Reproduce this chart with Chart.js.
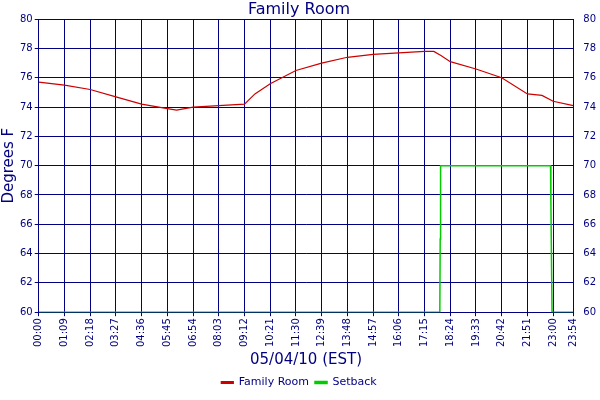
<!DOCTYPE html>
<html>
<head>
<script src="https://cdn.jsdelivr.net/npm/chart.js@4"></script>
<style>body{margin:0;background:#fff}#wrap{width:600px;height:400px}</style>
</head>
<body>
<div id="wrap"><canvas id="c"></canvas></div>
<script>
// minutes since midnight / temperature
const roomMinutes = [0, 69, 138, 207, 276, 345, 370, 414, 483, 552, 580, 621, 690, 759, 828, 897, 966, 1035, 1060, 1080, 1104, 1173, 1242, 1311, 1350, 1380, 1434];
const roomTemps = [75.7, 75.5, 75.2, 74.7, 74.2, 73.9, 73.8, 74.0, 74.1, 74.2, 74.9, 75.6, 76.5, 77.0, 77.4, 77.6, 77.7, 77.8, 77.8, 77.5, 77.1, 76.6, 76.0, 74.9, 74.8, 74.4, 74.1];
const setbackMinutes = [0, 1076, 1077, 1078, 1373, 1374, 1376, 1377, 1434];
const setbackTemps = [60, 60, 65, 70, 70, 67.5, 62.5, 60, 60];
const tickMinutes = [0, 69, 138, 207, 276, 345, 414, 483, 552, 621, 690, 759, 828, 897, 966, 1035, 1104, 1173, 1242, 1311, 1380, 1434];

const pad = n => String(n).padStart(2, '0');
const fmt = m => pad(Math.floor(m / 60)) + ':' + pad(m % 60);
const navy = '#000080';
const font = { family: 'Verdana, "DejaVu Sans", sans-serif', size: 10 };

new Chart(document.getElementById('c'), {
    type: 'line',
    data: {
        datasets: [
            { label: 'Family Room', data: roomMinutes.map((m, i) => ({ x: m, y: roomTemps[i] })), borderColor: '#cc0000', backgroundColor: '#cc0000', borderWidth: 1.2, pointRadius: 0 },
            { label: 'Setback', data: setbackMinutes.map((m, i) => ({ x: m, y: setbackTemps[i] })), borderColor: '#00cc00', backgroundColor: '#00cc00', borderWidth: 1.5, pointRadius: 0 }
        ]
    },
    options: {
        animation: false,
        responsive: true,
        maintainAspectRatio: false,
        layout: { padding: { left: 0, right: 2, bottom: 2 } },
        plugins: {
            title: { display: true, text: 'Family Room', color: navy, font: { ...font, size: 16, weight: 'normal' }, padding: { top: 0, bottom: 0 } },
            legend: { position: 'bottom', labels: { color: navy, font: { ...font, size: 11 }, boxWidth: 12, boxHeight: 2, padding: 6 } }
        },
        scales: {
            x: {
                type: 'linear', min: 0, max: 1434,
                afterBuildTicks: ax => { ax.ticks = tickMinutes.map(v => ({ value: v })); },
                ticks: { color: navy, font, maxRotation: 90, minRotation: 90, autoSkip: false, padding: 2, callback: v => fmt(v) },
                grid: { color: navy, tickLength: 4 }, border: { color: navy },
                title: { display: true, text: '05/04/10 (EST)', color: navy, font: { ...font, size: 15 }, padding: 2 }
            },
            y: {
                min: 60, max: 80,
                ticks: { stepSize: 2, color: navy, font, padding: 2 },
                grid: { color: navy, tickLength: 4 }, border: { color: navy },
                title: { display: true, text: 'Degrees F', color: navy, font: { ...font, size: 15 }, padding: 0 }
            },
            y2: {
                position: 'right', min: 60, max: 80,
                ticks: { stepSize: 2, color: navy, font, padding: 2 },
                grid: { display: false }, border: { color: navy }
            }
        }
    }
});
</script>
</body>
</html>
